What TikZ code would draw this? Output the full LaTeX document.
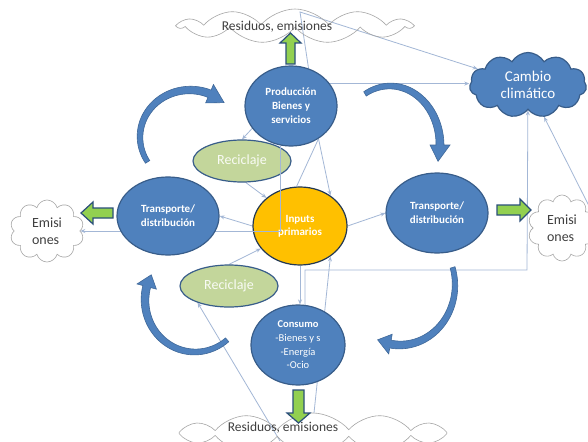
\documentclass[tikz,border=0pt]{standalone}
\usepackage{fontspec}
\setmainfont{Carlito}
\usetikzlibrary{shapes.geometric,shapes.symbols,arrows.meta}
\definecolor{nblue}{HTML}{4F81BD}
\definecolor{nedge}{HTML}{385D8A}
\definecolor{ngold}{HTML}{FFC000}
\definecolor{nolive}{HTML}{C3D69B}
\definecolor{lineblue}{HTML}{A3B7D6}
\definecolor{agreen}{HTML}{92D050}
\definecolor{aedge}{HTML}{2B4F7A}
\definecolor{cgray}{HTML}{A6A6A6}
\definecolor{tgray}{HTML}{404040}
\pgfdeclarelayer{bg}\pgfdeclarelayer{connlayer}
\pgfsetlayers{bg,connlayer,main}
\tikzset{
  bluenode/.style={ellipse, fill=nblue, draw=nedge, line width=1.2pt, inner sep=0pt,
    text=white, align=center, font=\fontsize{11}{14}\selectfont\bfseries},
  recnode/.style={ellipse, fill=nolive, draw=nedge, line width=1.2pt, minimum width=98pt,
    minimum height=42pt, inner sep=0pt, text=white!90!nolive, font=\fontsize{14}{16}\selectfont},
  cloudnode/.style={cloud, cloud ignores aspect, draw=cgray, line width=0.6pt, inner sep=0pt,
    text=tgray, align=left, font=\fontsize{14}{17}\selectfont},
  link/.style={draw=lineblue, line width=0.8pt, -{Stealth[length=5pt,width=4pt]}},
  plainlink/.style={draw=lineblue, line width=0.8pt},
  garrow/.style={fill=agreen, draw=aedge, line width=1.2pt, line join=miter},
  carrow/.style={fill=nblue, draw=nedge!70!nblue, line width=0.6pt},
  lbl/.style={text=tgray, font=\fontsize{13.5}{16}\selectfont}
}
% curved tapered arrow: cx cy rx ry t1 t2(head base) t3(tip) w1 w2
\newcommand\curvarr[9]{%
 \filldraw[carrow] plot[domain=#5:#6,samples=40,variable=\t]
  ({#1+(#3+(#8+(#9-#8)*(\t-(#5))/((#6)-(#5)))/2)*cos(\t)},{#2+(#4+(#8+(#9-#8)*(\t-(#5))/((#6)-(#5)))/2)*sin(\t)})
  -- ({#1+(#3+#9/2+6)*cos(#6)},{#2+(#4+#9/2+6)*sin(#6)})
  -- ({#1+#3*cos(#7)},{#2+#4*sin(#7)})
  -- ({#1+(#3-#9/2-6)*cos(#6)},{#2+(#4-#9/2-6)*sin(#6)})
  -- plot[domain=#6:#5,samples=40,variable=\t]
  ({#1+(#3-(#8+(#9-#8)*(\t-(#5))/((#6)-(#5)))/2)*cos(\t)},{#2+(#4-(#8+(#9-#8)*(\t-(#5))/((#6)-(#5)))/2)*sin(\t)})
  -- cycle;}
\begin{document}
\begin{tikzpicture}[x=1pt,y=-1pt]
\begin{pgfonlayer}{bg}
\fill[white] (0,0) rectangle (588,441);
\end{pgfonlayer}
\useasboundingbox (0,0) rectangle (588,441);

% clouds
\node[cloudnode, cloud puffs=11, cloud puff arc=100, minimum width=232pt, minimum height=34pt] (tcloud) at (295,26) {};
\node[lbl] (tlab) at (277,27) {Residuos, emisiones};
\node[cloudnode, cloud puffs=12, cloud puff arc=100, minimum width=268pt, minimum height=40pt] (bcloud) at (313,433) {};
\node[lbl] (blab) at (283,428) {Residuos, emisiones};
\node[cloudnode, cloud puffs=10, minimum width=74pt, minimum height=62pt] (lcloud) at (47,231) {Emisi\\ones};
\node[cloudnode, cloud puffs=10, minimum width=68pt, minimum height=66pt] (rcloud) at (562,228) {Emisi\\ones};
\node[cloud, cloud ignores aspect, cloud puffs=11, cloud puff arc=120, fill=nblue, draw=nedge,
  line width=1.2pt, minimum width=117pt, minimum height=65pt, inner sep=0pt, text=white,
  align=center, font=\fontsize{15}{17}\selectfont] (cambio) at (528,85) {Cambio\\climático};

% main nodes
\node[bluenode, minimum width=92pt, minimum height=80pt] (prod) at (291,106) {Producción\\Bienes y\\servicios};
\node[recnode] (rec1) at (242,161) {Reciclaje};
\node[ellipse, fill=ngold, draw=nedge!60!black, line width=1.2pt, minimum width=94pt, minimum height=78pt,
  inner sep=0pt, text=white, align=center, font=\fontsize{11}{13}\selectfont\bfseries] (inp) at (300,226) {Inputs\\primarios};
\node[recnode] (rec2) at (229,286) {Reciclaje};
\node[bluenode, minimum width=94pt, minimum height=80pt, font=\fontsize{10.5}{13.7}\selectfont] (cons) at (298,345)
  {\textbf{Consumo}\\-Bienes y s\\-Energía\\-Ocio};
\node[bluenode, minimum width=102pt, minimum height=80pt] (trR) at (437,213) {Transporte/\\distribución};

% elbow line drawn over reciclaje and inputs, under left transport
\draw[link] (prod.255) |- (lcloud);
\node[bluenode, minimum width=102pt, minimum height=78pt] (trL) at (168,216) {Transporte/\\distribución};

% thin connectors
\coordinate (k1) at (300,12);
\coordinate (k2) at (527,270);
\coordinate (k3) at (314,413);
\coordinate (k4) at (590,208);
\coordinate (k5) at (280,441);
\begin{pgfonlayer}{connlayer}
\draw[link] (prod.65) -- (k1) -- (cambio);
\draw[link] (prod.30) -- (prod.30 -| cambio.west);
\draw[link] (prod.210) -- (rec1.north);
\draw[link] (rec1.-80) -- (inp.140);
\draw[plainlink] (prod.-50) -- (inp.95);
\draw[link] (prod.-50) -- (inp.45);
\draw[link] (inp.west) -- (trL.east);
\draw[link] (rec2.north) -- (inp.210);
\draw[link] (inp.east) -- (trR.west);
\draw[link] (inp.south) -- (inp.south |- cons.north);
\draw[link] (cons.80) |- (k2) -- (cambio);
\draw[link] (k3) -- (inp.-45);
\draw[link] (k4) -- (cambio);
\draw[link] (k5) -- (rec2.208);
\end{pgfonlayer}

% green block arrows
\filldraw[garrow] (286,64) -- (286,43) -- (280,43) -- (290.5,33) -- (301,43) -- (295,43) -- (295,64) -- cycle;
\filldraw[garrow] (113,208) -- (93,208) -- (93,202) -- (81,213) -- (93,224) -- (93,218) -- (113,218) -- cycle;
\filldraw[garrow] (497,205) -- (520,205) -- (520,199) -- (531,210) -- (520,221) -- (520,215) -- (497,215) -- cycle;
\filldraw[garrow] (293,390) -- (293,413) -- (287,413) -- (298.5,423) -- (310,413) -- (304,413) -- (304,390) -- cycle;

% curved cycle arrows
\curvarr{190}{137}{50}{47}{148}{293}{313}{5}{8}
\curvarr{390}{145}{50}{59}{240}{360}{376}{5}{8}
\curvarr{400}{285}{55}{60}{-17}{100}{114}{5}{8}
\curvarr{195}{300}{50}{52}{50}{195}{209}{5}{8}
\end{tikzpicture}
\end{document}
